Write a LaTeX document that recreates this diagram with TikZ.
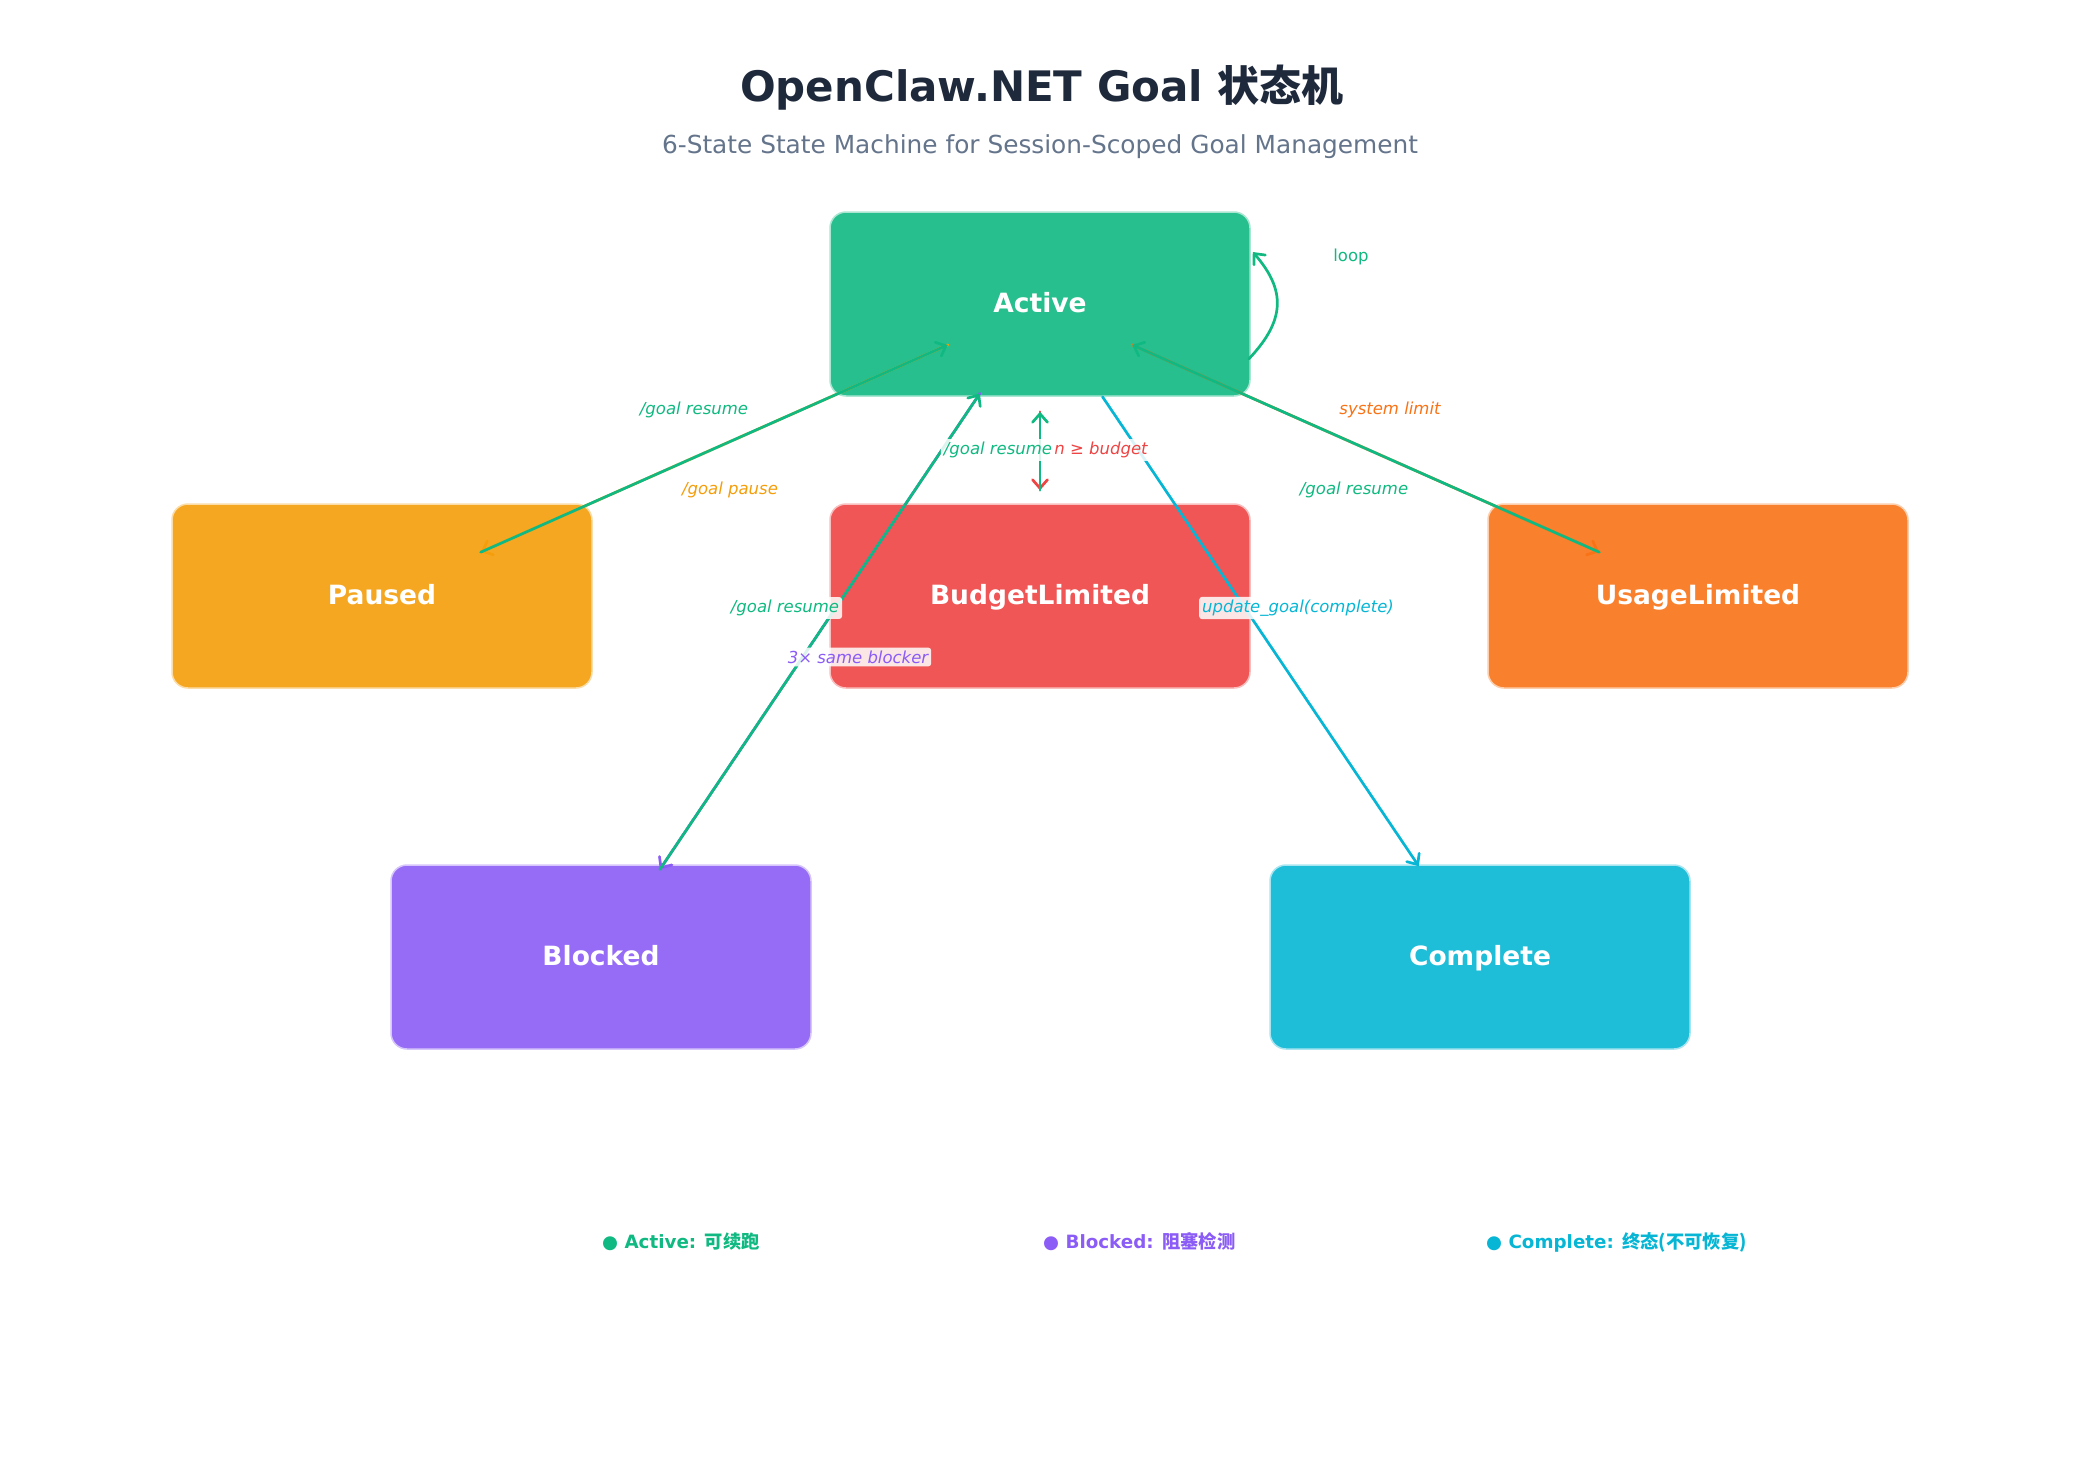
\documentclass[tikz,border=0pt]{standalone}
\usepackage{fontspec}
\setmainfont{DejaVu Sans}
\newfontfamily\cjk{Noto Sans CJK SC}
\usetikzlibrary{arrows.meta,calc}
\definecolor{cgreen}{HTML}{10B981}
\definecolor{cred}{HTML}{EF4444}
\definecolor{cpause}{HTML}{F59E0B}
\definecolor{corange}{HTML}{F97316}
\definecolor{cpurple}{HTML}{8B5CF6}
\definecolor{ccyan}{HTML}{06B6D4}
\definecolor{ctitle}{HTML}{1E293B}
\definecolor{csub}{HTML}{64748B}
\newcommand{\myfs}[1]{\fontsize{#1}{#1}\selectfont}
\begin{document}
\begin{tikzpicture}[x=1pt,y=-1pt,
  state/.style={rectangle, rounded corners=16pt, minimum width=420pt, minimum height=184pt,
    fill=#1, fill opacity=0.9, text opacity=1, text=white, draw=#1!35, draw opacity=1,
    line width=1.5pt, font=\myfs{26.5}\bfseries, text height=16pt, text depth=0pt},
  conn/.style={draw=#1, line width=2.7pt, line cap=round, -{Straight Barb[length=8.5pt,width=15pt,line cap=round]}},
  lbl/.style={font=\myfs{16.5}\itshape, text=#1, fill=white, fill opacity=0.85, text opacity=1,
    inner xsep=3pt, inner ysep=3pt, rounded corners=3pt},
  legend/.style={anchor=west, text=#1, font=\myfs{18.3}\bfseries, inner sep=0pt}
]
\useasboundingbox (0,0) rectangle (2080,1480);
\fill[white] (0,0) rectangle (2080,1480);

% title
\node[font=\myfs{42}\bfseries, text=ctitle] (title) at (1042,88) {OpenClaw.NET Goal {\cjk 状态机}};
\node[font=\myfs{24.8}, text=csub] (subtitle) at (1040,147) {6-State State Machine for Session-Scoped Goal Management};

% states
\node[state=cgreen] (active) at (1040,304) {Active};
\node[state=cred] (budget) at (1040,596) {BudgetLimited};
\node[state=cpause] (paused) at (382,596) {Paused};
\node[state=corange] (usage) at (1698,596) {UsageLimited};
\node[state=cpurple] (blocked) at (601,957) {Blocked};
\node[state=ccyan] (complete) at (1480,957) {Complete};

% connectors
\draw[conn=cpause] ($(active)!0.14!(paused)$) -- ($(active)!0.85!(paused)$);
\draw[conn=cgreen] ($(paused)!0.15!(active)$) -- ($(paused)!0.86!(active)$);

\draw[conn=corange] ($(active)!0.14!(usage)$) -- ($(active)!0.85!(usage)$);
\draw[conn=cgreen] ($(usage)!0.15!(active)$) -- ($(usage)!0.86!(active)$);

\draw[conn=cred] ($(active.south)+(0,15)$) -- ($(budget.north)+(0,-13)$);
\draw[conn=cgreen] ($(budget.north)+(0,-13)$) -- ($(active.south)+(0,15)$);

\draw[conn=cpurple] ($(active)!0.137!(blocked)$) -- ($(active)!0.866!(blocked)$);
\draw[conn=cgreen] ($(blocked)!0.134!(active)$) -- ($(blocked)!0.863!(active)$);

\draw[conn=ccyan] ($(active)!0.142!(complete)$) -- ($(active)!0.861!(complete)$);

\draw[conn=cgreen] ($(active.east)+(-2,55)$) .. controls +(37,-39) and +(33,38) .. ($(active.east)+(2,-52)$);

% labels
\node[lbl=cgreen] (l1) at (694,410) {/goal resume};
\node[lbl=cpause] (l2) at (730,490) {/goal pause};
\node[lbl=corange] (l3) at (1390,410) {system limit};
\node[lbl=cgreen] (l4) at (1354,490) {/goal resume};
\node[lbl=cred] (l5) at (1101,450) {n ≥ budget};
\node[lbl=cgreen] (l6) at (998,450) {/goal resume};
\node[lbl=cgreen] (l7) at (785,608) {/goal resume};
\node[lbl=cpurple] (l8) at (858,657) {3× same blocker};
\node[lbl=ccyan] (l9) at (1298,608) {update\_goal(complete)};
\node[font=\myfs{16.5}, text=cgreen] (l10) at (1351,257) {loop};

% legend
\node[legend=cgreen] (lg1) at (602,1242) {● Active: {\cjk 可续跑}};
\node[legend=cpurple] (lg2) at (1043,1242) {● Blocked: {\cjk 阻塞检测}};
\node[legend=ccyan] (lg3) at (1486,1242) {● Complete: {\cjk 终态(不可恢复)}};
\end{tikzpicture}
\end{document}
